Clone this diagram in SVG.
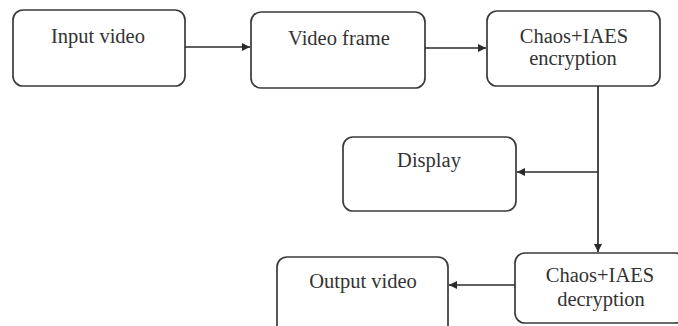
<svg xmlns="http://www.w3.org/2000/svg" width="678" height="326" viewBox="0 0 678 326">
<style>
.box{fill:#fff;stroke:#3a3a3a;stroke-width:1.7}
.lbl{font-family:"Liberation Serif","Times New Roman",serif;font-size:20.5px;fill:#333;text-anchor:middle}
.con{stroke:#2a2a2a;stroke-width:1.7;fill:none}
</style>
<defs>
<marker id="ah" viewBox="0 0 10 10" refX="10" refY="5" markerWidth="8" markerHeight="8" markerUnits="userSpaceOnUse" orient="auto">
<path d="M0,0 L10,5 L0,10 z" fill="#2a2a2a"/>
</marker>
</defs>
<rect width="678" height="326" fill="#fff"/>
<g id="input-video">
<rect class="box" x="13" y="10" width="172" height="76" rx="10"/>
<text class="lbl" x="98" y="43">Input video</text>
</g>
<g id="video-frame">
<rect class="box" x="251" y="12" width="174" height="76" rx="10"/>
<text class="lbl" x="339" y="45">Video frame</text>
</g>
<g id="encryption">
<rect class="box" x="487" y="11" width="173" height="75" rx="10"/>
<text class="lbl" x="574" y="43">Chaos+IAES</text>
<text class="lbl" x="573" y="65">encryption</text>
</g>
<g id="display">
<rect class="box" x="343" y="137" width="173" height="74" rx="10"/>
<text class="lbl" x="429" y="167">Display</text>
</g>
<g id="decryption">
<rect class="box" x="515" y="253" width="170" height="70" rx="10"/>
<text class="lbl" x="600" y="282">Chaos+IAES</text>
<text class="lbl" x="601" y="306">decryption</text>
</g>
<g id="output-video">
<rect class="box" x="277" y="257" width="171" height="80" rx="10"/>
<text class="lbl" x="363" y="288">Output video</text>
</g>
<g id="connectors">
<line class="con" x1="185" y1="47" x2="250" y2="47" marker-end="url(#ah)"/>
<line class="con" x1="425" y1="48" x2="486" y2="48" marker-end="url(#ah)"/>
<line class="con" x1="598" y1="86" x2="598" y2="252" marker-end="url(#ah)"/>
<line class="con" x1="598" y1="172" x2="517" y2="172" marker-end="url(#ah)"/>
<line class="con" x1="515" y1="285" x2="449" y2="285" marker-end="url(#ah)"/>
</g>
</svg>
